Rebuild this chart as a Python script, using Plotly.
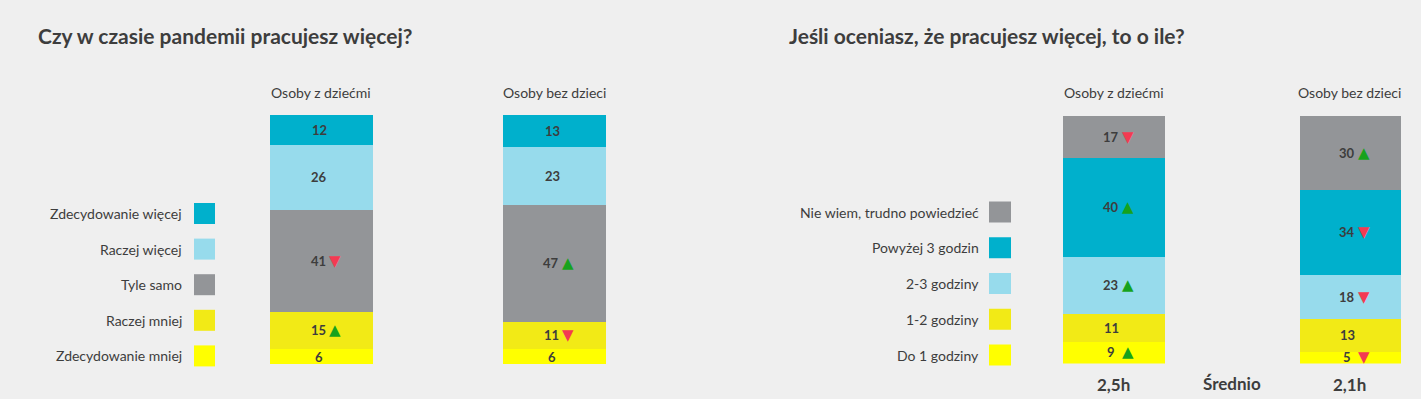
import plotly.graph_objects as go

# ---------------- data ----------------
groups = ["Osoby z dziećmi", "Osoby bez dzieci"]

left_title = "Czy w czasie pandemii pracujesz więcej?"
left_names = ["Zdecydowanie mniej", "Raczej mniej", "Tyle samo", "Raczej więcej", "Zdecydowanie więcej"]
zdec_mniej = [6, 6]
raczej_mniej = [15, 11]
tyle_samo = [41, 47]
raczej_wiecej = [26, 23]
zdec_wiecej = [12, 13]
left_values = [zdec_mniej, raczej_mniej, tyle_samo, raczej_wiecej, zdec_wiecej]
left_trends = [[None, None], ["up", "down"], ["down", "up"], [None, None], [None, None]]

right_title = "Jeśli oceniasz, że pracujesz więcej, to o ile?"
right_names = ["Do 1 godziny", "1-2 godziny", "2-3 godziny", "Powyżej 3 godzin", "Nie wiem, trudno powiedzieć"]
do_1h = [9, 5]
h1_2 = [11, 13]
h2_3 = [23, 18]
powyzej_3h = [40, 34]
nie_wiem = [17, 30]
right_values = [do_1h, h1_2, h2_3, powyzej_3h, nie_wiem]
right_trends = [["up", "down"], [None, None], ["up", "down"], ["up", "down"], ["down", "up"]]

averages = ["2,5h", "2,1h"]
avg_label = "Średnio"

# ---------------- style ----------------
colors = ["#ffff00", "#f2ea16", "#939598", "#97dbec", "#00b0cc"]
right_colors = ["#ffff00", "#f2ea16", "#97dbec", "#00b0cc", "#939598"]
BG = "#efefef"
TXT = "#3d3d3d"
GREEN = "#17a21c"
RED = "#f33a52"
FONT = "Lato, 'Open Sans', sans-serif"

W, H = 1421, 399
def px(x): return x / W
def py(y): return 1 - y / H

fig = go.Figure()
xs = [0, 1]

def add_stack(values, names, cols, xa, ya, width):
    for v, n, c in zip(values, names, cols):
        fig.add_trace(go.Bar(x=xs, y=v, name=n, marker=dict(color=c, line=dict(width=0)),
                             width=width, xaxis=xa, yaxis=ya, showlegend=False,
                             hoverinfo="skip"))

add_stack(left_values, left_names, colors, "x", "y", 0.438)
add_stack(right_values, right_names, right_colors, "x2", "y2", 0.43)

ann = []

def add_labels(values, trends, xref, yref):
    base = [0, 0]
    for v, t in zip(values, trends):
        for i in range(2):
            yc = base[i] + v[i] / 2
            ann.append(dict(x=xs[i], y=yc, xref=xref, yref=yref, text=f"<b>{v[i]}</b>",
                            showarrow=False, xshift=-2 if t[i] is None else -3,
                            font=dict(family=FONT, size=13, color=TXT)))
            if t[i]:
                ann.append(dict(x=xs[i], y=yc, xref=xref, yref=yref,
                                text="▲" if t[i] == "up" else "▼",
                                showarrow=False, xshift=14, yshift=0,
                                font=dict(family="DejaVu Sans", size=15,
                                          color=GREEN if t[i] == "up" else RED)))
            base[i] += v[i]

add_labels(left_values, left_trends, "x", "y")
add_labels(right_values, right_trends, "x2", "y2")

# group headers
for xref in ["x", "x2"]:
    for i, g in enumerate(groups):
        ann.append(dict(x=xs[i], y=py(93), xref=xref, yref="paper", text=g, showarrow=False,
                        font=dict(family=FONT, size=14, color=TXT), yanchor="middle"))

# titles
ann.append(dict(x=px(36), y=py(35), xref="paper", yref="paper", text=f"<b>{left_title}</b>",
                showarrow=False, xanchor="left", yanchor="middle",
                font=dict(family=FONT, size=21, color=TXT)))
ann.append(dict(x=px(787), y=py(35), xref="paper", yref="paper", text=f"<b>{right_title}</b>",
                showarrow=False, xanchor="left", yanchor="middle",
                font=dict(family=FONT, size=21, color=TXT)))

# averages
for i, a in enumerate(averages):
    ann.append(dict(x=xs[i], y=py(384), xref="x2", yref="paper", text=f"<b>{a}</b>",
                    showarrow=False, yanchor="middle",
                    font=dict(family=FONT, size=17, color=TXT)))
ann.append(dict(x=0.5, y=py(383), xref="x2", yref="paper", text=f"<b>{avg_label}</b>",
                showarrow=False, yanchor="middle", font=dict(family=FONT, size=17, color=TXT)))

# custom legends
shapes = []
def add_legend(names, cols, text_right, sq_x0, sq_x1, y_start, step):
    for k, (n, c) in enumerate(zip(names[::-1], cols[::-1])):
        yc = y_start + k * step
        ann.append(dict(x=px(text_right), y=py(yc), xref="paper", yref="paper", text=n,
                        showarrow=False, xanchor="right", yanchor="middle",
                        font=dict(family=FONT, size=14, color=TXT)))
        shapes.append(dict(type="rect", xref="paper", yref="paper",
                           x0=px(sq_x0), x1=px(sq_x1), y0=py(yc - 10.5), y1=py(yc + 10.5),
                           fillcolor=c, line=dict(width=0)))

add_legend(left_names, colors, 184, 194, 215, 213.5, 35.6)
add_legend(right_names, right_colors, 981, 989, 1011, 212, 35.75)

axis_common = dict(showgrid=False, zeroline=False, showticklabels=False, showline=False,
                   fixedrange=True)
fig.update_layout(
    width=W, height=H, autosize=False,
    margin=dict(l=0, r=0, t=0, b=0),
    paper_bgcolor=BG, plot_bgcolor=BG,
    barmode="stack", bargap=0,
    xaxis=dict(domain=[px(204.5), px(670.5)], range=[-0.5, 1.5], **axis_common),
    yaxis=dict(domain=[py(364), py(115)], range=[0, 100], **axis_common),
    xaxis2=dict(domain=[px(1042.55), px(1409.1)], range=[-0.3, 1.25], anchor="y2", **axis_common),
    yaxis2=dict(domain=[py(363.5), py(115.5)], range=[0, 100], anchor="x2", **axis_common),
    annotations=ann, shapes=shapes,
    font=dict(family=FONT, color=TXT),
)

fig.write_html("out.html", config={"displayModeBar": False},
               post_script="document.body.style.margin='0';document.body.style.overflow='hidden';")
